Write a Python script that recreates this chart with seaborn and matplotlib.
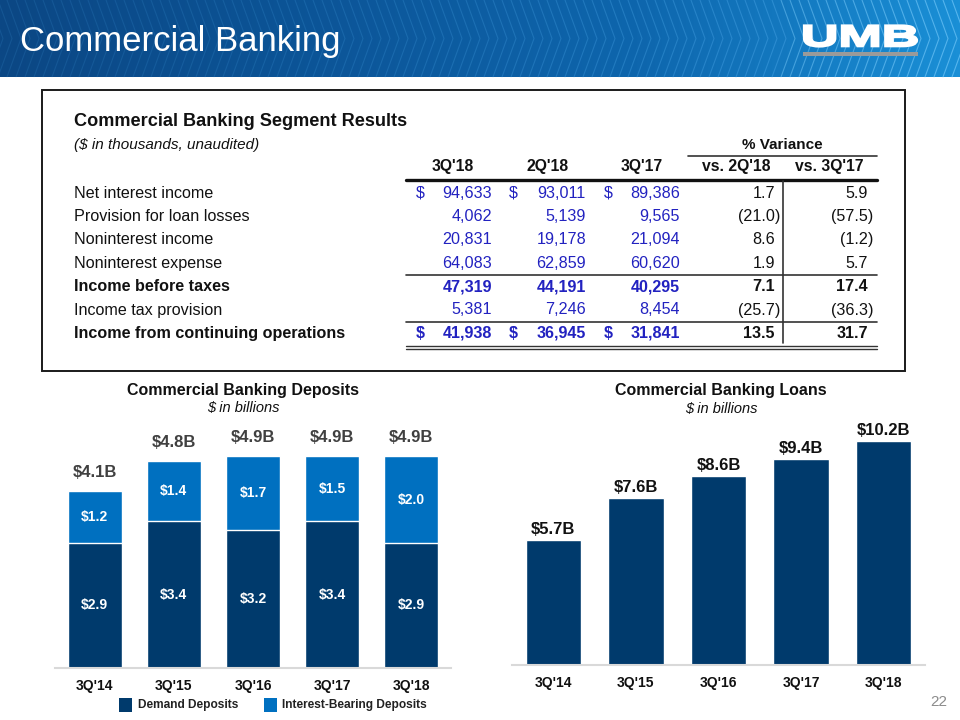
import numpy as np
import pandas as pd
import seaborn as sns
import matplotlib.pyplot as plt
from matplotlib.patches import Rectangle, PathPatch
from matplotlib.textpath import TextPath
from matplotlib.font_manager import FontProperties
from matplotlib.transforms import Affine2D

# ---- data ----
quarters = ["3Q'14", "3Q'15", "3Q'16", "3Q'17", "3Q'18"]
demand_deposits = [2.9, 3.4, 3.2, 3.4, 2.9]
interest_bearing = [1.2, 1.4, 1.7, 1.5, 2.0]
deposit_totals = [4.1, 4.8, 4.9, 4.9, 4.9]
loans = [5.7, 7.6, 8.6, 9.4, 10.2]

row_labels = ["Net interest income", "Provision for loan losses", "Noninterest income",
              "Noninterest expense", "Income before taxes", "Income tax provision",
              "Income from continuing operations"]
bold_rows = [False, False, False, False, True, False, True]
dollar_rows = [True, False, False, False, False, False, True]
col_heads = ["3Q'18", "2Q'18", "3Q'17"]
q3_18 = [94633, 4062, 20831, 64083, 47319, 5381, 41938]
q2_18 = [93011, 5139, 19178, 62859, 44191, 7246, 36945]
q3_17 = [89386, 9565, 21094, 60620, 40295, 8454, 31841]
var_heads = ["vs. 2Q'18", "vs. 3Q'17"]
var_2q18 = [1.7, -21.0, 8.6, 1.9, 7.1, -25.7, 13.5]
var_3q17 = [5.9, -57.5, -1.2, 5.7, 17.4, -36.3, 31.7]

NAVY = "#003a6c"
BLUE = "#0070c0"
NUM_BLUE = "#2222c0"
FONT = "Liberation Sans"

sns.set_theme(style="white")
plt.rcParams['font.family'] = [FONT, 'DejaVu Sans']

fig = plt.figure(figsize=(9.6, 7.2), dpi=100)
W, H = 960, 720

# full-figure canvas in pixel coordinates
bg = fig.add_axes([0, 0, 1, 1])
bg.set_xlim(0, W)
bg.set_ylim(H, 0)
bg.axis("off")

# ---- header band ----
grad = np.linspace(0, 1, 400)
cmap = sns.blend_palette(["#0b4784", "#0c5598", "#0e66ad", "#1a8fd6"], as_cmap=True)
bg.imshow(grad[None, :], extent=(0, W, 77, 0), cmap=cmap, aspect="auto", zorder=0)
for x in np.arange(-20, W, 9):
    t = max(x, 0) / W
    alpha = 0.15 + 0.45 * t ** 2
    col = "#4aa6e8" if x < 780 else "#7fd0ff"
    bg.plot([x, x + 14, x], [0, 38.5, 77], color=col, lw=0.8, alpha=alpha, zorder=1)
bg.text(20, 41, "Commercial Banking", color="white", fontsize=25, va="center", ha="left", zorder=3)

# UMB logo
tp = TextPath((0, 0), "UMB", prop=FontProperties(family=FONT, weight="bold"), size=10)
bb = tp.get_extents()
tr = Affine2D().translate(-bb.x0, -bb.y0).scale(113 / bb.width, -21 / bb.height).translate(804, 46.5)
bg.add_patch(PathPatch(tr.transform_path(tp), facecolor="white", edgecolor="white", lw=1.6, zorder=3))
bg.add_patch(Rectangle((803, 52), 115, 4, facecolor="#9a9a9a", edgecolor="none", zorder=3))

# ---- results table ----
bg.add_patch(Rectangle((42, 90), 863, 281, facecolor="none", edgecolor="#1a1a1a", lw=1.4, zorder=2))
bg.text(74, 121, "Commercial Banking Segment Results", fontsize=13.1, fontweight="bold",
        va="center", ha="left", color="#111111")
bg.text(74, 145, "($ in thousands, unaudited)", fontsize=11, style="italic",
        va="center", ha="left", color="#111111")

bg.text(782, 145, "% Variance", fontsize=11, fontweight="bold", va="center", ha="center", color="#111111")
bg.plot([688, 877], [156, 156], color="#333333", lw=1.2)
col_centers = [453, 548, 642]
for c, h in zip(col_centers, col_heads):
    bg.text(c, 167, h, fontsize=11.3, fontweight="bold", va="center", ha="center", color="#111111")
for c, h in zip([736, 829], var_heads):
    bg.text(c, 167, h, fontsize=11.3, fontweight="bold", va="center", ha="center", color="#111111")
bg.plot([406, 877], [180, 180], color="#111111", lw=2.4)
bg.plot([783, 783], [181, 343], color="#333333", lw=1.2)
bg.plot([406, 877], [274.5, 274.5], color="#333333", lw=1.2)
bg.plot([406, 877], [322, 322], color="#333333", lw=1.2)
bg.plot([406, 877], [345.5, 345.5], color="#333333", lw=1.0)
bg.plot([406, 877], [348.5, 348.5], color="#333333", lw=1.0)


def fmt_var(v):
    return f"{v:.1f}" if v >= 0 else f"({-v:.1f})"


dollar_x = [420, 513, 608]
num_right = [492, 586, 680]
FS = 11.6
for i, label in enumerate(row_labels):
    y = 193 + i * 23.4
    fw = "bold" if bold_rows[i] else "normal"
    bg.text(74, y, label, fontsize=FS, fontweight=fw, va="center", ha="left", color="#111111")
    for j, series in enumerate([q3_18, q2_18, q3_17]):
        if dollar_rows[i]:
            bg.text(dollar_x[j], y, "$", fontsize=FS, fontweight=fw, va="center", ha="center", color=NUM_BLUE)
        bg.text(num_right[j], y, f"{series[i]:,}", fontsize=FS, fontweight=fw, va="center",
                ha="right", color=NUM_BLUE)
    for v, xr in zip([var_2q18[i], var_3q17[i]], [775, 868]):
        bg.text(xr + (5 if v < 0 else 0), y, fmt_var(v), fontsize=FS, fontweight=fw, va="center",
                ha="right", color="#111111")

# ---- chart titles ----
bg.text(243, 390, "Commercial Banking Deposits", fontsize=11.5, fontweight="bold", ha="center", va="center", color="#111111")
bg.text(243, 408, "$ in billions", fontsize=10.5, style="italic", ha="center", va="center", color="#111111")
bg.text(721, 390, "Commercial Banking Loans", fontsize=11.5, fontweight="bold", ha="center", va="center", color="#111111")
bg.text(721, 409, "$ in billions", fontsize=10.5, style="italic", ha="center", va="center", color="#111111")

# legend
bg.add_patch(Rectangle((119, 698), 13, 14, facecolor=NAVY, edgecolor="none"))
bg.text(138, 705, "Demand Deposits", fontsize=8.6, fontweight="bold", ha="left", va="center", color="#222222")
bg.add_patch(Rectangle((264, 698), 13, 14, facecolor=BLUE, edgecolor="none"))
bg.text(282, 705, "Interest-Bearing Deposits", fontsize=8.6, fontweight="bold", ha="left", va="center", color="#222222")

bg.text(939, 702, "22", fontsize=11, ha="center", va="center", color="#8c8c8c")


def px_axes(left, right, bottom, top):
    return fig.add_axes([left / W, 1 - bottom / H, (right - left) / W, (bottom - top) / H])


def style_axes(ax):
    for s in ["left", "right", "top"]:
        ax.spines[s].set_visible(False)
    ax.spines["bottom"].set_color("#d9d9d9")
    ax.spines["bottom"].set_linewidth(1.5)
    ax.set_yticks([])
    ax.set_xlabel("")
    ax.set_ylabel("")
    ax.set_xlim(-0.5, 4.5)
    ax.tick_params(axis="x", length=0, pad=8)
    for lab in ax.get_xticklabels():
        lab.set_fontweight("bold")
        lab.set_fontsize(10)
        lab.set_color("#111111")
    ax.patch.set_alpha(0)


# ---- deposits chart ----
dep = pd.DataFrame({"quarter": quarters, "demand": demand_deposits, "ib": interest_bearing})
dep["total"] = dep["demand"] + dep["ib"]
ax1 = px_axes(55, 451, 668, 420)
sns.barplot(data=dep, x="quarter", y="total", color=BLUE, saturation=1, width=0.68, ax=ax1)
sns.barplot(data=dep, x="quarter", y="demand", color=NAVY, saturation=1, width=0.68, ax=ax1)
ax1.set_ylim(0, 248 / 43.2)
style_axes(ax1)
for i, row in dep.iterrows():
    ax1.text(i, row["demand"] / 2, f"${row['demand']:.1f}", color="white", fontsize=10,
             fontweight="bold", ha="center", va="center")
    ax1.text(i, row["demand"] + row["ib"] / 2, f"${row['ib']:.1f}", color="white", fontsize=10,
             fontweight="bold", ha="center", va="center")
    ax1.annotate(f"${deposit_totals[i]:.1f}B", (i, row["total"]), xytext=(0, 8),
                 textcoords="offset points", ha="center", va="bottom", fontsize=12,
                 fontweight="bold", color="#404040")

# ---- loans chart ----
ln = pd.DataFrame({"quarter": quarters, "loans": loans})
ax2 = px_axes(512, 925, 665, 420)
sns.barplot(data=ln, x="quarter", y="loans", color=NAVY, saturation=1, width=0.67, ax=ax2)
ax2.set_ylim(0, 245 / 21.95)
style_axes(ax2)
for i, v in enumerate(loans):
    ax2.annotate(f"${v:.1f}B", (i, v), xytext=(0, 2), textcoords="offset points",
                 ha="center", va="bottom", fontsize=12, fontweight="bold", color="#111111")

fig.savefig("out.png", dpi=100)
